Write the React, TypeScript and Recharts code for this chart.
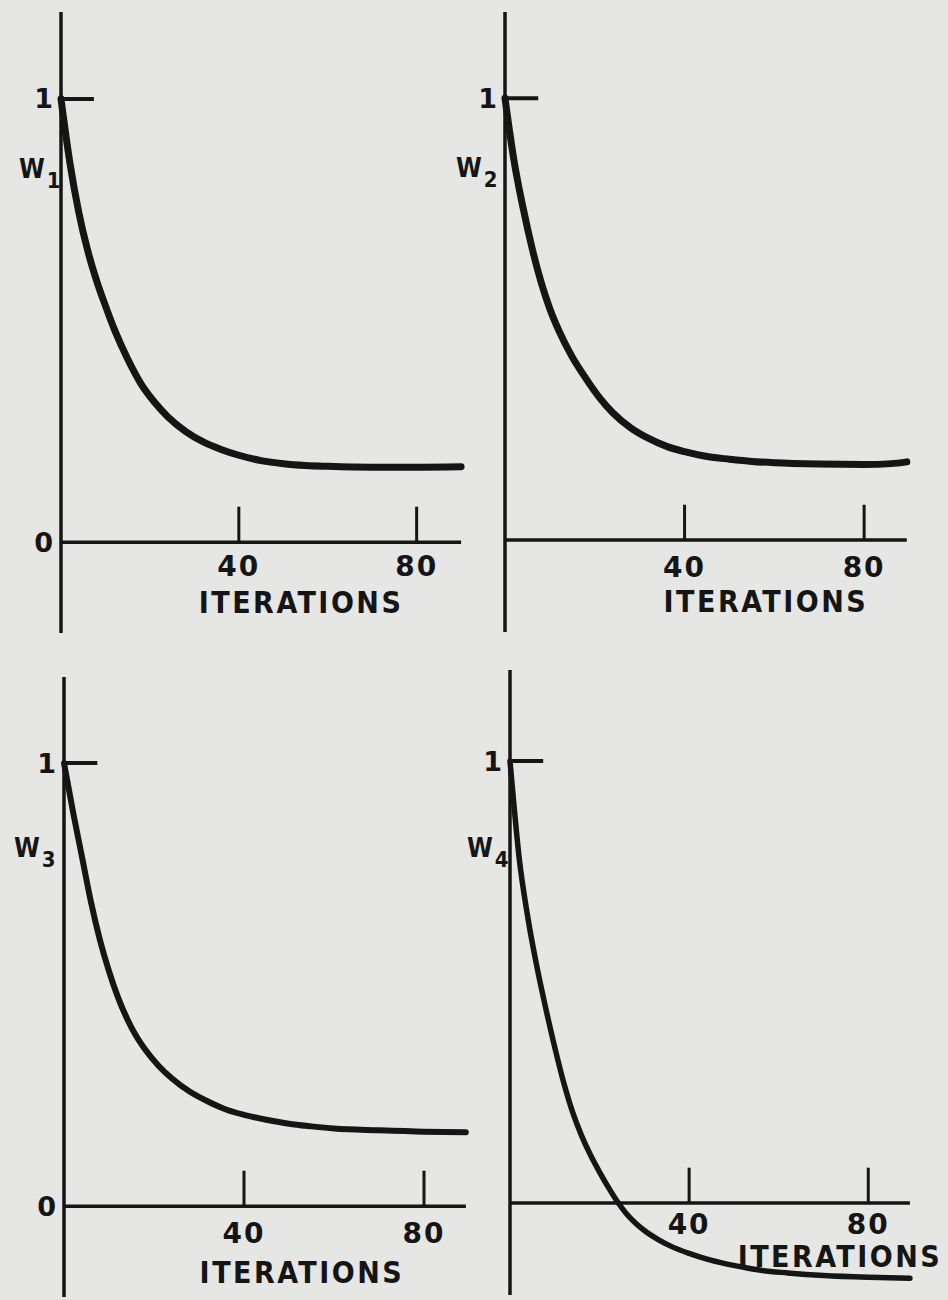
import React from 'react';
import { LineChart, Line, XAxis, YAxis, ReferenceLine } from 'recharts';

const INK = '#151515';
const PAPER = '#e6e6e5';
const FONT = '"DejaVu Sans", "Liberation Sans", sans-serif';
const FONT_NARROW = '"DejaVu Sans Condensed", "DejaVu Sans", sans-serif';

// x-axis tick values shared by the four panels
const iterTicks = [40, 80];
const TICK_H = 0.08;
const ONE_DASH = 7.4;

// W1 weight vs. iteration
const w1Iter = [0, 2, 4, 6, 8, 10, 12, 15, 18, 21, 24, 28, 32, 36, 40, 45, 50, 55, 60, 70, 80, 90];
const w1Value = [1.0, 0.856, 0.744, 0.658, 0.59, 0.533, 0.48, 0.413, 0.357, 0.316, 0.283, 0.25, 0.226, 0.209, 0.196, 0.184, 0.177, 0.173, 0.171, 0.169, 0.169, 0.17];

// W2 weight vs. iteration
const w2Iter = [0, 2, 4, 6, 8, 10, 12, 15, 18, 21, 24, 28, 32, 36, 40, 45, 50, 55, 60, 70, 80, 86, 89.5];
const w2Value = [1.0, 0.859, 0.753, 0.662, 0.585, 0.523, 0.474, 0.414, 0.366, 0.323, 0.288, 0.254, 0.23, 0.212, 0.2, 0.189, 0.183, 0.178, 0.175, 0.172, 0.171, 0.173, 0.177];

// W3 weight vs. iteration
const w3Iter = [0, 2, 4, 6, 8, 10, 12, 15, 18, 21, 24, 28, 32, 36, 40, 45, 50, 55, 60, 70, 80, 89.3];
const w3Value = [1.0, 0.89, 0.788, 0.686, 0.6, 0.53, 0.471, 0.403, 0.354, 0.317, 0.288, 0.258, 0.236, 0.218, 0.206, 0.195, 0.186, 0.18, 0.175, 0.171, 0.168, 0.167];

// W4 weight vs. iteration (overshoots below zero)
const w4Iter = [0, 0.75, 2, 4, 6, 8, 10, 12, 14, 16, 18, 20, 22, 24, 26, 28, 30, 33, 36, 40, 44, 48, 52, 56, 62, 70, 80, 89.3];
const w4Value = [1.0, 0.915, 0.785, 0.645, 0.535, 0.44, 0.352, 0.272, 0.205, 0.152, 0.108, 0.07, 0.035, 0.003, -0.024, -0.045, -0.062, -0.082, -0.098, -0.114, -0.127, -0.137, -0.145, -0.152, -0.158, -0.164, -0.168, -0.17];

const toRows = (xs: number[], ys: number[]) => xs.map((iter, i) => ({ iter, w: ys[i] }));

const AXIS_W = 61;

type PanelProps = {
  rows: { iter: number; w: number }[];
  sub: string;
  left: number;
  top: number;
  height: number;
  plotWidth: number;
  rightPad: number;
  yDomain: [number, number];
  yTicks: number[];
  axisEnd: number;
  curveWidth: number;
  wPos: { dx: number; dy: number };
  titlePos: { dx: number; dy: number };
  tickGap: number;
};

const textStyle = {
  fill: INK,
  fontFamily: FONT,
  fontWeight: 700,
};

function Panel(p: PanelProps) {
  const width = AXIS_W + p.plotWidth + p.rightPad;

  const renderW = (lp: any) => {
    const vb = lp.viewBox || {};
    const x = (vb.x ?? 0) + (vb.width ?? AXIS_W) + p.wPos.dx;
    const y = (vb.y ?? 0) + p.wPos.dy;
    return (
      <text x={x} y={y} fill={INK} fontFamily={FONT_NARROW} fontWeight={700} fontSize={26}>
        <tspan>W</tspan>
        <tspan dx={2} dy={10} fontSize={22}>{p.sub}</tspan>
      </text>
    );
  };

  const renderTitle = (lp: any) => {
    const vb = lp.viewBox || {};
    const x = (vb.x ?? 0) + (vb.width ?? 0) / 2 + p.titlePos.dx;
    const y = (vb.y ?? 0) + p.titlePos.dy;
    return (
      <text
        x={x}
        y={y}
        textAnchor="middle"
        fill={INK}
        fontFamily={FONT_NARROW}
        fontWeight={700}
        fontSize={30}
        letterSpacing={2.5}
      >
        ITERATIONS
      </text>
    );
  };

  return (
    <div style={{ position: 'absolute', left: p.left, top: p.top }}>
      <LineChart
        width={width}
        height={p.height}
        data={p.rows}
        margin={{ top: 0, right: p.rightPad, bottom: 0, left: 0 }}
      >
        <XAxis type="number" dataKey="iter" domain={[0, 92]} hide />
        <YAxis
          type="number"
          domain={p.yDomain}
          ticks={p.yTicks}
          interval={0}
          width={AXIS_W}
          axisLine={{ stroke: INK, strokeWidth: 3.5 }}
          tickLine={false}
          tick={{ ...textStyle, fontSize: 27 }}
          label={{ content: renderW }}
        />
        <ReferenceLine
          segment={[{ x: 0, y: 0 }, { x: p.axisEnd, y: 0 }]}
          stroke={INK}
          strokeWidth={3.5}
          label={{ content: renderTitle }}
        />
        {iterTicks.map((t) => (
          <ReferenceLine
            key={t}
            segment={[{ x: t, y: 0 }, { x: t, y: TICK_H }]}
            stroke={INK}
            strokeWidth={3}
            label={{
              value: String(t),
              position: 'bottom',
              offset: p.tickGap,
              ...textStyle,
              fontSize: 28,
              letterSpacing: 2,
            }}
          />
        ))}
        <ReferenceLine segment={[{ x: 0, y: 1 }, { x: ONE_DASH, y: 1 }]} stroke={INK} strokeWidth={4} />
        <Line
          dataKey="w"
          type="monotone"
          stroke={INK}
          strokeWidth={p.curveWidth}
          strokeLinecap="round"
          strokeLinejoin="round"
          dot={false}
          activeDot={false}
          isAnimationActive={false}
        />
      </LineChart>
    </div>
  );
}

export default function App() {
  return (
    <div
      style={{
        position: 'absolute',
        left: 0,
        top: 0,
        width: 948,
        height: 1300,
        background: PAPER,
        overflow: 'hidden',
      }}
    >
      <Panel
        rows={toRows(w1Iter, w1Value)}
        sub="1"
        left={0}
        top={12}
        height={621}
        plotWidth={409}
        rightPad={10}
        yDomain={[-0.205, 1.196]}
        yTicks={[0, 1]}
        axisEnd={90}
        curveWidth={7}
        wPos={{ dx: -42, dy: 166 }}
        titlePos={{ dx: 40, dy: 71 }}
        tickGap={14}
      />
      <Panel
        rows={toRows(w2Iter, w2Value)}
        sub="2"
        left={444}
        top={12}
        height={620}
        plotWidth={413}
        rightPad={10}
        yDomain={[-0.208, 1.195]}
        yTicks={[1]}
        axisEnd={89.5}
        curveWidth={7}
        wPos={{ dx: -49, dy: 165 }}
        titlePos={{ dx: 60, dy: 72 }}
        tickGap={17}
      />
      <Panel
        rows={toRows(w3Iter, w3Value)}
        sub="3"
        left={3}
        top={677}
        height={620}
        plotWidth={414}
        rightPad={10}
        yDomain={[-0.205, 1.194]}
        yTicks={[0, 1]}
        axisEnd={89.3}
        curveWidth={6}
        wPos={{ dx: -50, dy: 180 }}
        titlePos={{ dx: 37, dy: 77 }}
        tickGap={17}
      />
      <Panel
        rows={toRows(w4Iter, w4Value)}
        sub="4"
        left={449}
        top={670}
        height={625}
        plotWidth={412}
        rightPad={26}
        yDomain={[-0.208, 1.206]}
        yTicks={[1]}
        axisEnd={89.3}
        curveWidth={5.5}
        wPos={{ dx: -43, dy: 187 }}
        titlePos={{ dx: 130, dy: 64 }}
        tickGap={11}
      />
    </div>
  );
}
